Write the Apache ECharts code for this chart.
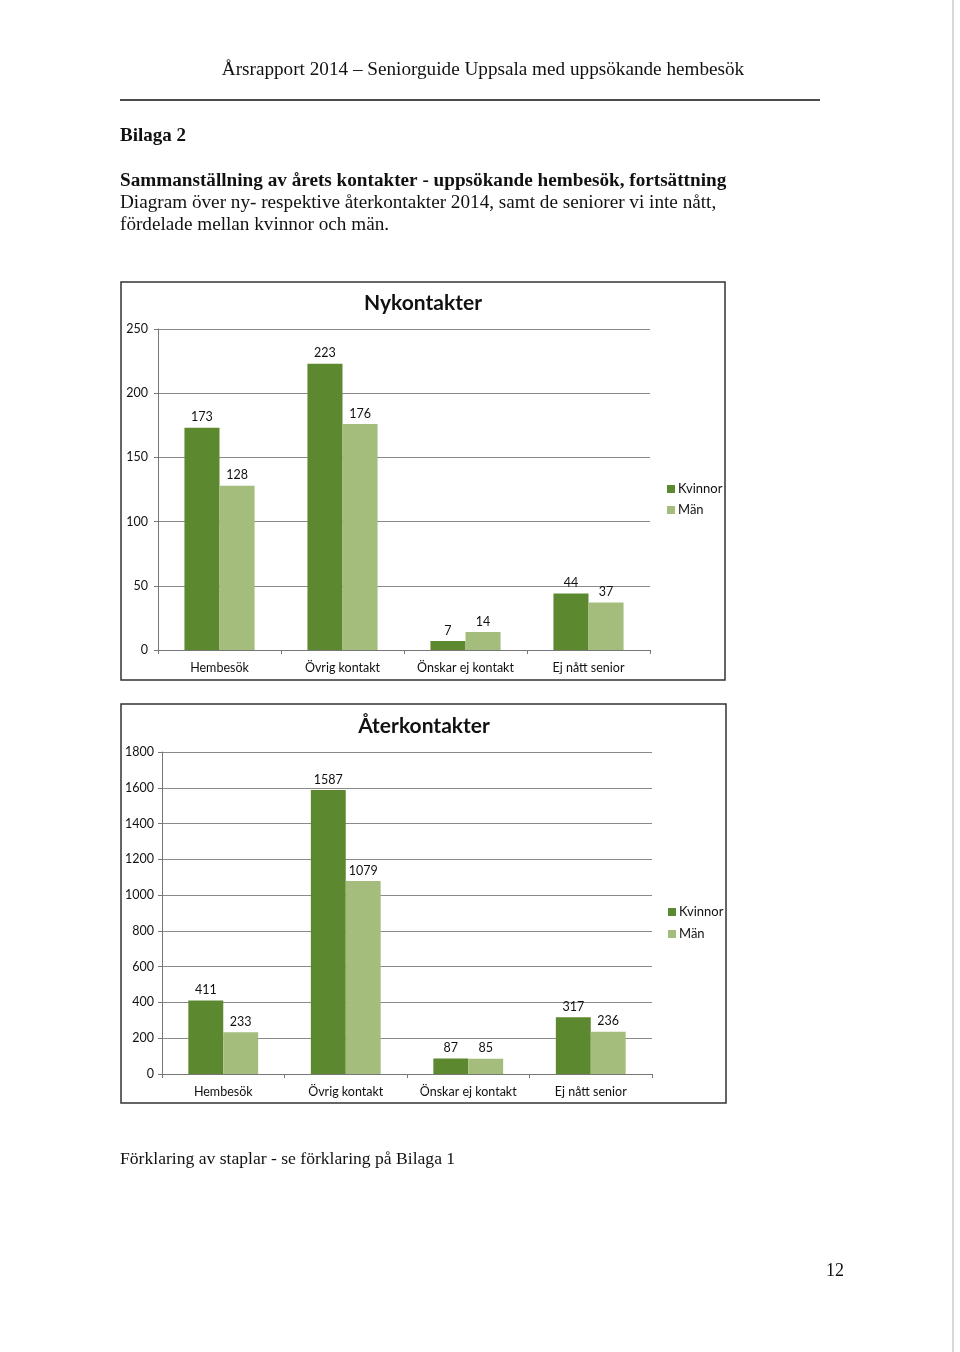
<!DOCTYPE html>
<html>
<head>
<meta charset="utf-8">
<script src="https://cdn.jsdelivr.net/npm/echarts@6/dist/echarts.min.js"></script>
<style>
html,body{margin:0;padding:0;background:#fff;}
#c{width:960px;height:1352px;}
</style>
</head>
<body>
<div id="c"></div>
<script>
const categories = ['Hembesök', 'Övrig kontakt', 'Önskar ej kontakt', 'Ej nått senior'];
const seriesNames = ['Kvinnor', 'Män'];
const nyKvinnor = [173, 223, 7, 44];
const nyMan = [128, 176, 14, 37];
const aterKvinnor = [411, 1587, 87, 317];
const aterMan = [233, 1079, 85, 236];
const chartTitles = ['Nykontakter', 'Återkontakter'];

const colK = '#5c892f';
const colM = '#a4bd7d';
const chartFont = 'Lato, "Open Sans", sans-serif';
const docFont = '"Liberation Serif", "DejaVu Serif", serif';

const chart = echarts.init(document.getElementById('c'));

function txt(text, x, y, size, opts) {
  opts = opts || {};
  return {
    type: 'text', x: x, y: y, silent: true,
    style: {
      text: text,
      fontSize: size,
      fontFamily: opts.family || docFont,
      fontWeight: opts.weight || 'normal',
      fill: opts.fill || '#111',
      align: opts.align || 'left',
      verticalAlign: 'middle'
    }
  };
}

const axisLabelStyle = { fontFamily: chartFont, fontSize: 12.5, color: '#111' };

function xAx(gi) {
  return {
    type: 'category', gridIndex: gi, data: categories,
    axisLine: { lineStyle: { color: '#777', width: 1 } },
    axisTick: { show: true, length: 4, alignWithLabel: false, lineStyle: { color: '#777' } },
    axisLabel: Object.assign({ margin: 11, interval: 0 }, axisLabelStyle)
  };
}
function yAx(gi, max, interval, margin) {
  return {
    type: 'value', gridIndex: gi, min: 0, max: max, interval: interval,
    axisLine: { show: true, lineStyle: { color: '#777', width: 1 } },
    axisTick: { show: true, length: 4, lineStyle: { color: '#777' } },
    axisLabel: Object.assign({ margin: margin, formatter: function (v) { return String(v); } }, axisLabelStyle),
    splitLine: { show: true, lineStyle: { color: '#8a8a8a', width: 1 } }
  };
}
function bar(name, data, gi, color) {
  return {
    type: 'bar', name: name, data: data,
    xAxisIndex: gi, yAxisIndex: gi,
    barGap: '0%', barCategoryGap: '43%',
    itemStyle: { color: color },
    label: { show: true, position: 'top', distance: 4, fontFamily: chartFont, fontSize: 12.5, color: '#111' }
  };
}

const legendText = { fontFamily: chartFont, fontSize: 13, color: '#111', lineHeight: 14, padding: [0, 0, 0, -2] };

const option = {
  animation: false,
  backgroundColor: '#ffffff',
  textStyle: { fontFamily: chartFont },
  grid: [
    { left: 158, top: 329, width: 492, height: 321, containLabel: false },
    { left: 162, top: 752, width: 490, height: 322, containLabel: false }
  ],
  xAxis: [xAx(0), xAx(1)],
  yAxis: [yAx(0, 250, 50, 10), yAx(1, 1800, 200, 8)],
  legend: [
    { orient: 'vertical', left: 662, top: 477, itemWidth: 8, itemHeight: 8, itemGap: 7,
      data: seriesNames, icon: 'rect', textStyle: legendText },
    { orient: 'vertical', left: 663, top: 900, itemWidth: 8, itemHeight: 8, itemGap: 8,
      data: seriesNames, icon: 'rect', textStyle: legendText }
  ],
  series: [
    bar(seriesNames[0], nyKvinnor, 0, colK),
    bar(seriesNames[1], nyMan, 0, colM),
    bar(seriesNames[0], aterKvinnor, 1, colK),
    bar(seriesNames[1], aterMan, 1, colM)
  ],
  graphic: [
    txt('Årsrapport 2014 – Seniorguide Uppsala med uppsökande hembesök', 483, 70, 19.2, { align: 'center' }),
    { type: 'line', silent: true, shape: { x1: 120, y1: 100, x2: 820, y2: 100 }, style: { stroke: '#111', lineWidth: 1.5 } },
    txt('Bilaga 2', 120, 136, 19, { weight: 'bold' }),
    txt('Sammanställning av årets kontakter - uppsökande hembesök, fortsättning', 120, 181, 19.2, { weight: 'bold' }),
    txt('Diagram över ny- respektive återkontakter 2014, samt de seniorer vi inte nått,', 120, 203, 19.2),
    txt('fördelade mellan kvinnor och män.', 120, 225, 19.2),
    { type: 'rect', silent: true, shape: { x: 121, y: 282, width: 604, height: 398 }, style: { fill: 'none', stroke: '#333', lineWidth: 1.5 } },
    { type: 'rect', silent: true, shape: { x: 121, y: 704, width: 605, height: 399 }, style: { fill: 'none', stroke: '#333', lineWidth: 1.5 } },
    txt(chartTitles[0], 423, 303, 21, { family: chartFont, weight: 'bold', align: 'center' }),
    txt(chartTitles[1], 424, 726, 21, { family: chartFont, weight: 'bold', align: 'center' }),
    txt('Förklaring av staplar - se förklaring på Bilaga 1', 120, 1159, 17.6),
    txt('12', 835, 1271, 18, { align: 'center' }),
    { type: 'line', silent: true, shape: { x1: 953, y1: 0, x2: 953, y2: 1352 }, style: { stroke: '#d8d8d8', lineWidth: 2 } }
  ]
};
chart.setOption(option);
</script>
</body>
</html>
